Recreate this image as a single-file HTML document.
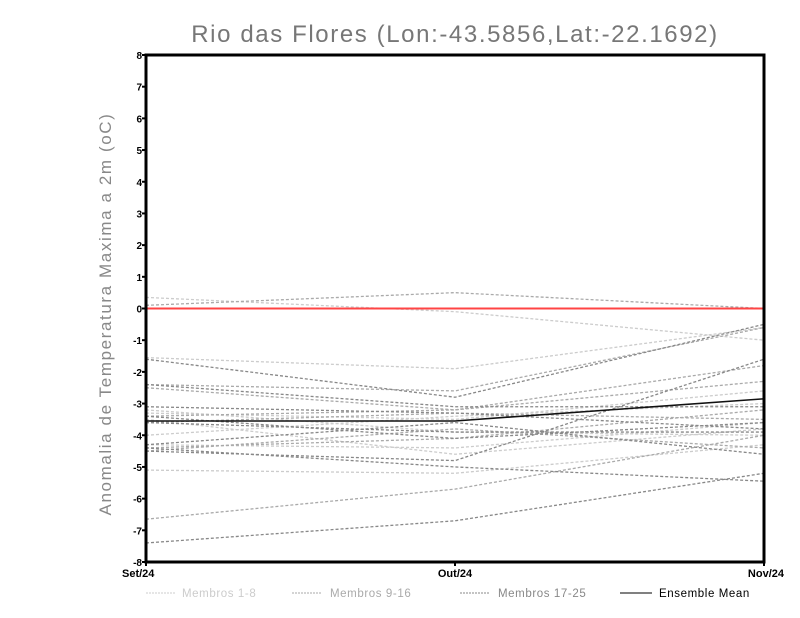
<!DOCTYPE html>
<html><head><meta charset="utf-8"><style>
body{margin:0;background:#fff;}
svg{display:block;font-family:"Liberation Sans",sans-serif;}
</style></head><body>
<svg id="chart" width="800" height="618">
<text x="455" y="42" font-size="24" fill="#777" text-anchor="middle" letter-spacing="1.6">Rio das Flores (Lon:-43.5856,Lat:-22.1692)</text>
<text transform="translate(111,314) rotate(-90)" font-size="17" fill="#888" text-anchor="middle" letter-spacing="1.6">Anomalia de Temperatura Maxima a 2m (oC)</text>
<g id="marks"></g>
<g id="axes"></g>
<g font-size="11.5" letter-spacing="0.6">
<line x1="146" y1="593" x2="176" y2="593" stroke="#ccc" stroke-dasharray="2,1"/>
<text x="182" y="597" fill="#ccc">Membros 1-8</text>
<line x1="292" y1="593" x2="322" y2="593" stroke="#aaa" stroke-dasharray="2,1"/>
<text x="330" y="597" fill="#aaa">Membros 9-16</text>
<line x1="460" y1="593" x2="490" y2="593" stroke="#888" stroke-dasharray="2,1"/>
<text x="498" y="597" fill="#888">Membros 17-25</text>
<line x1="620" y1="593" x2="652" y2="593" stroke="#000"/>
<text x="659" y="597" fill="#000">Ensemble Mean</text>
</g>
</svg>
<script>
const categories = ["Set/24","Out/24","Nov/24"];
const yTicks = [-8,-7,-6,-5,-4,-3,-2,-1,0,1,2,3,4,5,6,7,8];
const members1to8 = [
 [0.35,-0.1,-1.0],[-1.55,-1.9,-0.6],[-3.2,-3.9,-4.0],[-4.3,-4.4,-3.6],
 [-5.1,-5.2,-4.3],[-4.0,-3.4,-3.0],[-3.5,-4.6,-3.8],[-3.3,-3.5,-2.6]];
const members9to16 = [
 [0.1,0.5,0.0],[-6.65,-5.7,-4.0],[-2.4,-2.6,-0.6],[-4.4,-4.1,-3.2],
 [-3.4,-3.2,-2.3],[-4.5,-3.8,-4.4],[-3.6,-3.3,-3.5],[-2.5,-3.2,-1.8]];
const members17to25 = [
 [-1.6,-2.8,-0.5],[-7.4,-6.7,-5.2],[-4.4,-5.0,-5.45],[-3.4,-4.1,-3.6],
 [-3.1,-3.3,-3.8],[-4.5,-4.8,-1.6],[-2.4,-3.1,-3.1],[-3.6,-3.9,-3.9],[-4.3,-3.6,-4.6]];
const ensembleMean = [-3.55,-3.55,-2.85];
const zeroLine = [0,0,0];

const L=146,R=764,T=55,B=562;
const xs=i=>L+(R-L)*i/(categories.length-1);
const ys=v=>T+(8-v)*(B-T)/16;
const NS="http://www.w3.org/2000/svg";
const marks=document.getElementById('marks'), axes=document.getElementById('axes');
function mk(tag,attrs,parent){const e=document.createElementNS(NS,tag);for(const k in attrs)e.setAttribute(k,attrs[k]);parent.appendChild(e);return e;}
function line(vals,color,dash,w,name){
  const p=mk('polyline',{points:vals.map((v,i)=>xs(i)+','+ys(v)).join(' '),fill:'none',stroke:color,'stroke-width':w,'stroke-dasharray':dash||'none'},marks);
  
  
}
members1to8.forEach((s,i)=>line(s,'#ccc','3,2',1.3,'member-'+(i+1)+'-line'));
members9to16.forEach((s,i)=>line(s,'#aaa','3,2',1.3,'member-'+(i+9)+'-line'));
members17to25.forEach((s,i)=>line(s,'#888','3,2',1.3,'member-'+(i+17)+'-line'));
line(zeroLine,'#f44',null,2,'zero-line');
line(ensembleMean,'#111',null,1.6,'ensemble-mean-line');
const fr=mk('rect',{x:L,y:T,width:R-L,height:B-T,fill:'none',stroke:'#000','stroke-width':3},axes);


yTicks.forEach(v=>{
  const t=mk('line',{x1:L-4,x2:L,y1:ys(v),y2:ys(v),stroke:'#000','stroke-width':2},axes);
  
  
  const tx=mk('text',{x:L-4,y:ys(v)+4,'font-size':10,'font-weight':'bold','text-anchor':'end'},axes);
  tx.textContent=v;
  
  
});
categories.forEach((c,i)=>{
  const t=mk('line',{x1:xs(i),x2:xs(i),y1:B,y2:B+4,stroke:'#000','stroke-width':2},axes);
  
  
  const anchor=i==0?'start':(i==categories.length-1?'end':'middle');
  const tx=mk('text',{x:xs(i)+(i==0?-24:(i==categories.length-1?20:0)),y:B+15,'font-size':11,'font-weight':'bold','text-anchor':anchor},axes);
  tx.textContent=c;
  
  
});
</script>
</body></html>
